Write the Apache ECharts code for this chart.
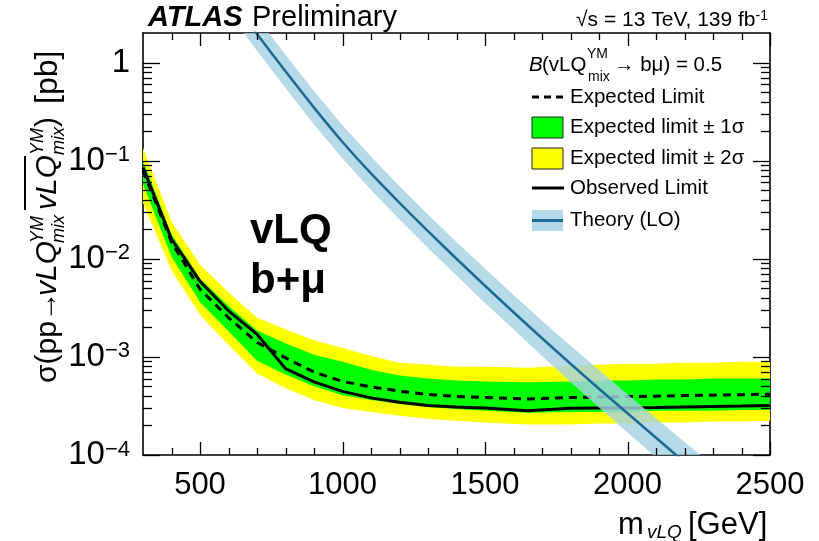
<!DOCTYPE html>
<html>
<head>
<meta charset="utf-8">
<script src="https://cdn.jsdelivr.net/npm/echarts@6/dist/echarts.min.js"></script>
<style>
  html, body { margin: 0; padding: 0; background: #fff; }
  #chart { width: 819px; height: 541px; }
</style>
</head>
<body>
<div id="chart"></div>
<script>
// Vector-like leptoquark (mixed Yang-Mills coupling) pair production, b+mu channel.
// Upper limits on the cross-section [pb] versus leptoquark mass [GeV].
const masses = [300, 400, 500, 600, 700, 800, 900, 1000, 1100, 1200, 1300, 1400, 1500, 1650, 1800, 1900, 2000, 2100, 2200, 2300, 2400, 2500];

const expectedLimit = [0.0794, 0.0148, 4.90e-3, 2.51e-3, 1.41e-3, 9.77e-4, 7.00e-4, 5.62e-4, 4.95e-4, 4.47e-4, 4.14e-4, 3.96e-4, 3.85e-4, 3.72e-4, 3.85e-4, 3.89e-4, 3.94e-4, 3.98e-4, 4.03e-4, 4.07e-4, 4.12e-4, 4.17e-4];
const observedLimit = [0.0851, 0.01585, 5.89e-3, 2.95e-3, 1.70e-3, 7.59e-4, 5.56e-4, 4.45e-4, 3.82e-4, 3.45e-4, 3.19e-4, 3.08e-4, 3.02e-4, 2.82e-4, 2.99e-4, 3.02e-4, 3.02e-4, 3.05e-4, 3.09e-4, 3.13e-4, 3.16e-4, 3.20e-4];

const oneSigmaUp   = [0.100, 0.0178, 6.31e-3, 3.31e-3, 1.86e-3, 1.38e-3, 1.05e-3, 8.91e-4, 7.41e-4, 6.46e-4, 6.03e-4, 5.75e-4, 5.62e-4, 5.50e-4, 5.62e-4, 5.75e-4, 5.75e-4, 5.89e-4, 5.89e-4, 6.03e-4, 6.03e-4, 6.03e-4];
const oneSigmaDown = [0.0575, 0.01047, 3.63e-3, 1.82e-3, 9.12e-4, 6.61e-4, 5.01e-4, 4.07e-4, 3.63e-4, 3.31e-4, 3.09e-4, 2.95e-4, 2.82e-4, 2.69e-4, 2.75e-4, 2.75e-4, 2.75e-4, 2.82e-4, 2.82e-4, 2.82e-4, 2.88e-4, 2.88e-4];
const twoSigmaUp   = [0.135, 0.0240, 8.71e-3, 4.57e-3, 2.51e-3, 1.91e-3, 1.48e-3, 1.23e-3, 1.02e-3, 8.71e-4, 8.32e-4, 7.94e-4, 7.94e-4, 7.76e-4, 8.13e-4, 8.32e-4, 8.51e-4, 8.51e-4, 8.71e-4, 8.71e-4, 8.91e-4, 8.91e-4];
const twoSigmaDown = [0.0372, 7.59e-3, 2.69e-3, 1.32e-3, 6.76e-4, 4.79e-4, 3.63e-4, 3.02e-4, 2.75e-4, 2.51e-4, 2.34e-4, 2.24e-4, 2.14e-4, 2.04e-4, 2.04e-4, 2.09e-4, 2.09e-4, 2.14e-4, 2.14e-4, 2.19e-4, 2.19e-4, 2.24e-4];

// LO theory prediction with its uncertainty band
const theoryMasses = [600, 700, 800, 900, 1000, 1100, 1200, 1300, 1400, 1500, 1600, 1700, 1800, 1900, 2000, 2100, 2200, 2300];
const theoryXsec = [4.79, 1.95, 0.813, 0.347, 0.155, 0.0741, 0.0372, 0.0191, 0.0100, 5.31e-3, 2.85e-3, 1.55e-3, 8.51e-4, 4.73e-4, 2.66e-4, 1.50e-4, 8.41e-5, 4.73e-5];
const theoryUp   = [7.08, 2.88, 1.202, 0.513, 0.229, 0.110, 0.0550, 0.0282, 0.0148, 7.94e-3, 4.27e-3, 2.34e-3, 1.30e-3, 7.33e-4, 4.17e-4, 2.37e-4, 1.36e-4, 7.85e-5];
const theoryDown = [3.24, 1.318, 0.550, 0.234, 0.105, 0.0501, 0.0251, 0.0129, 6.76e-3, 3.55e-3, 1.91e-3, 1.02e-3, 5.56e-4, 3.05e-4, 1.70e-4, 9.44e-5, 5.19e-5, 2.85e-5];

// Axis ticks
const xMajorTicks = [500, 1000, 1500, 2000, 2500];
const xMinorTicks = [400, 600, 700, 800, 900, 1100, 1200, 1300, 1400, 1600, 1700, 1800, 1900, 2100, 2200, 2300, 2400];
const yMajorTicks = [1e-4, 1e-3, 1e-2, 0.1, 1];
const yMinorTicks = [
  2e-4, 3e-4, 4e-4, 5e-4, 6e-4, 7e-4, 8e-4, 9e-4,
  2e-3, 3e-3, 4e-3, 5e-3, 6e-3, 7e-3, 8e-3, 9e-3,
  2e-2, 3e-2, 4e-2, 5e-2, 6e-2, 7e-2, 8e-2, 9e-2,
  0.2, 0.3, 0.4, 0.5, 0.6, 0.7, 0.8, 0.9
];

const FONT = '"Liberation Sans", Arial, Helvetica, sans-serif';
const GREEN = '#00ff00';
const YELLOW = '#ffff00';
const THEORY_LINE = '#1b6a96';
const THEORY_BAND = 'rgba(166, 210, 226, 0.82)';
const LEGEND_SIZE = 20.5;

const chart = echarts.init(document.getElementById('chart'), null, { renderer: 'canvas' });

// A filled band between two curves, drawn as one polygon in data coordinates.
function bandSeries(name, xs, lo, hi, fill, z) {
  return {
    type: 'custom',
    name: name,
    coordinateSystem: 'cartesian2d',
    xAxisIndex: 0,
    yAxisIndex: 0,
    z: z,
    silent: true,
    data: xs.map((m, i) => [m, lo[i], hi[i]]),
    encode: { x: 0, y: [1, 2] },
    renderItem: function (params, api) {
      if (params.dataIndex !== 0) return null;
      const upper = xs.map((m, i) => api.coord([m, hi[i]]));
      const lower = xs.map((m, i) => api.coord([m, lo[i]])).reverse();
      const cs = params.coordSys;
      return {
        type: 'polygon',
        shape: { points: upper.concat(lower) },
        style: { fill: fill, stroke: null },
        clipPath: { type: 'rect', shape: { x: cs.x, y: cs.y, width: cs.width, height: cs.height } }
      };
    }
  };
}

// Inward tick marks on both opposite frame edges, placed through the axis scales.
function tickSeries(values, dim, len) {
  return {
    type: 'custom',
    coordinateSystem: 'cartesian2d',
    xAxisIndex: 0,
    yAxisIndex: 0,
    z: 20,
    silent: true,
    data: values.map(v => dim === 'x' ? [v, 1e-3] : [1000, v]),
    encode: { x: 0, y: 1 },
    renderItem: function (params, api) {
      const cs = params.coordSys;
      const p = api.coord([api.value(0), api.value(1)]);
      const st = { stroke: '#000', lineWidth: 1.3 };
      if (dim === 'x') {
        const x = Math.round(p[0]) + 0.5;
        const yb = cs.y + cs.height, yt = cs.y;
        return {
          type: 'group',
          children: [
            { type: 'line', shape: { x1: x, y1: yb, x2: x, y2: yb - len }, style: st },
            { type: 'line', shape: { x1: x, y1: yt, x2: x, y2: yt + len }, style: st }
          ]
        };
      }
      const y = Math.round(p[1]) + 0.5;
      const xl = cs.x, xr = cs.x + cs.width;
      return {
        type: 'group',
        children: [
          { type: 'line', shape: { x1: xl, y1: y, x2: xl + len, y2: y }, style: st },
          { type: 'line', shape: { x1: xr, y1: y, x2: xr - len, y2: y }, style: st }
        ]
      };
    }
  };
}

function txt(x, y, text, size, opt) {
  opt = opt || {};
  const font = (opt.italic ? 'italic ' : '') + (opt.bold ? 'bold ' : '') + size + 'px ' + FONT;
  return {
    type: 'text', x: x, y: y, z: 100, silent: true,
    rotation: opt.rotation || 0,
    style: {
      text: text, font: font, fill: '#000',
      align: opt.align || 'left', verticalAlign: opt.valign || 'middle',
      textAlign: opt.align || 'left', textVerticalAlign: opt.valign || 'middle'
    }
  };
}

const R = Math.PI / 2;
const graphics = [
  // header
  txt(148, 18, 'ATLAS', 29, { bold: true, italic: true }),
  txt(252, 18, 'Preliminary', 29),
  {
    type: 'text', x: 768, y: 20, z: 100, silent: true,
    style: {
      text: '{n|\u221As = 13 TeV, 139 fb}{s|-1}',
      align: 'right', verticalAlign: 'middle', textAlign: 'right', textVerticalAlign: 'middle',
      rich: {
        n: { fontSize: 21, fontFamily: FONT, fill: '#000', color: '#000' },
        s: { fontSize: 14, fontFamily: FONT, fill: '#000', color: '#000', verticalAlign: 'top' }
      }
    }
  },

  // legend header
  txt(529, 65, 'B', LEGEND_SIZE, { italic: true }),
  txt(542, 65, '(vLQ', LEGEND_SIZE),
  txt(587, 54, 'YM', 14),
  txt(588, 77, 'mix', 14),
  txt(614, 65, '\u2192 b\u03bc) = 0.5', LEGEND_SIZE),

  // legend entries
  { type: 'line', z: 100, silent: true, shape: { x1: 532, y1: 97, x2: 564, y2: 97 }, style: { stroke: '#000', lineWidth: 3, lineDash: [7, 5] } },
  txt(570, 97, 'Expected Limit', LEGEND_SIZE),
  { type: 'rect', z: 100, silent: true, shape: { x: 532, y: 117, width: 31, height: 21 }, style: { fill: GREEN, stroke: '#222', lineWidth: 1 } },
  txt(570, 127, 'Expected limit \u00b1 1\u03c3', LEGEND_SIZE),
  { type: 'rect', z: 100, silent: true, shape: { x: 532, y: 148, width: 31, height: 21 }, style: { fill: YELLOW, stroke: '#222', lineWidth: 1 } },
  txt(570, 158, 'Expected limit \u00b1 2\u03c3', LEGEND_SIZE),
  { type: 'line', z: 100, silent: true, shape: { x1: 532, y1: 188, x2: 564, y2: 188 }, style: { stroke: '#000', lineWidth: 3 } },
  txt(570, 188, 'Observed Limit', LEGEND_SIZE),
  { type: 'rect', z: 100, silent: true, shape: { x: 532, y: 210, width: 31, height: 21 }, style: { fill: 'rgb(180, 218, 232)' } },
  { type: 'line', z: 101, silent: true, shape: { x1: 532, y1: 220.5, x2: 563, y2: 220.5 }, style: { stroke: THEORY_LINE, lineWidth: 3 } },
  txt(570, 220, 'Theory (LO)', LEGEND_SIZE),

  // channel label
  txt(250, 231, 'vLQ', 42, { bold: true }),
  txt(250, 281, 'b+\u03bc', 42, { bold: true }),

  // y-axis title (reads bottom to top)
  txt(48, 383, '\u03c3(pp\u2192', 30, { rotation: R }),
  txt(48, 296, 'vLQ', 30, { rotation: R, italic: true }),
  txt(38, 243, 'YM', 18, { rotation: R, italic: true }),
  txt(59, 243, 'mix', 18, { rotation: R, italic: true }),
  txt(48, 210, 'vLQ', 30, { rotation: R, italic: true }),
  { type: 'line', z: 100, silent: true, shape: { x1: 25, y1: 210, x2: 25, y2: 156 }, style: { stroke: '#000', lineWidth: 2 } },
  txt(38, 155, 'YM', 18, { rotation: R, italic: true }),
  txt(59, 155, 'mix', 18, { rotation: R, italic: true }),
  txt(48, 127, ')', 30, { rotation: R }),
  txt(48, 104, '[pb]', 32, { rotation: R }),

  // x-axis title
  txt(618, 525, 'm', 31),
  txt(647, 533, 'vLQ', 19, { italic: true }),
  txt(688, 525, '[GeV]', 31)
];

const frameLine = { show: true, onZero: false, lineStyle: { color: '#000', width: 1.6 } };

const option = {
  animation: false,
  backgroundColor: '#fff',
  grid: { left: 143, right: 49, top: 33, bottom: 86, containLabel: false },
  xAxis: [
    {
      type: 'value', position: 'bottom', min: 300, max: 2500,
      axisLine: frameLine, axisTick: { show: false }, splitLine: { show: false },
      axisLabel: {
        customValues: xMajorTicks, color: '#000', fontSize: 31, fontFamily: FONT, margin: 15,
        formatter: v => String(v)
      }
    },
    {
      type: 'value', position: 'top', min: 300, max: 2500,
      axisLine: frameLine, axisTick: { show: false }, axisLabel: { show: false }, splitLine: { show: false }
    }
  ],
  yAxis: [
    {
      type: 'log', logBase: 10, position: 'left', min: 1e-4, max: 2,
      axisLine: frameLine, axisTick: { show: false }, splitLine: { show: false },
      axisLabel: {
        show: true, margin: 13,
        formatter: function (v) {
          const e = Math.round(Math.log10(v));
          const p = Math.pow(10, e);
          if (Math.abs(v - p) > 1e-6 * p) return '';
          if (e === 0) return '{b|1}';
          return '{b|10}{s|\u2212' + Math.abs(e) + '}';
        },
        rich: {
          b: { fontSize: 33, fontFamily: FONT, color: '#000' },
          s: { fontSize: 22, fontFamily: FONT, color: '#000', verticalAlign: 'top' }
        }
      }
    },
    {
      type: 'log', logBase: 10, position: 'right', min: 1e-4, max: 2,
      axisLine: frameLine, axisTick: { show: false }, axisLabel: { show: false }, splitLine: { show: false }
    }
  ],
  series: [
    bandSeries('Expected limit \u00b1 2\u03c3', masses, twoSigmaDown, twoSigmaUp, YELLOW, 1),
    bandSeries('Expected limit \u00b1 1\u03c3', masses, oneSigmaDown, oneSigmaUp, GREEN, 2),
    {
      type: 'line', name: 'Expected Limit', xAxisIndex: 0, yAxisIndex: 0, z: 3,
      data: masses.map((m, i) => [m, expectedLimit[i]]),
      symbol: 'none', silent: true,
      lineStyle: { color: '#000', width: 3, type: [8, 6] }
    },
    {
      type: 'line', name: 'Observed Limit', xAxisIndex: 0, yAxisIndex: 0, z: 4,
      data: masses.map((m, i) => [m, observedLimit[i]]),
      symbol: 'none', silent: true,
      lineStyle: { color: '#000', width: 3 }
    },
    bandSeries('Theory band', theoryMasses, theoryDown, theoryUp, THEORY_BAND, 5),
    {
      type: 'line', name: 'Theory (LO)', xAxisIndex: 0, yAxisIndex: 0, z: 6,
      data: theoryMasses.map((m, i) => [m, theoryXsec[i]]),
      symbol: 'none', silent: true, smooth: 0.2,
      lineStyle: { color: THEORY_LINE, width: 2.5 }
    },
    tickSeries(xMajorTicks, 'x', 13),
    tickSeries(xMinorTicks, 'x', 7),
    tickSeries(yMajorTicks, 'y', 17),
    tickSeries(yMinorTicks, 'y', 9)
  ],
  graphic: graphics
};

chart.setOption(option);
</script>
</body>
</html>
